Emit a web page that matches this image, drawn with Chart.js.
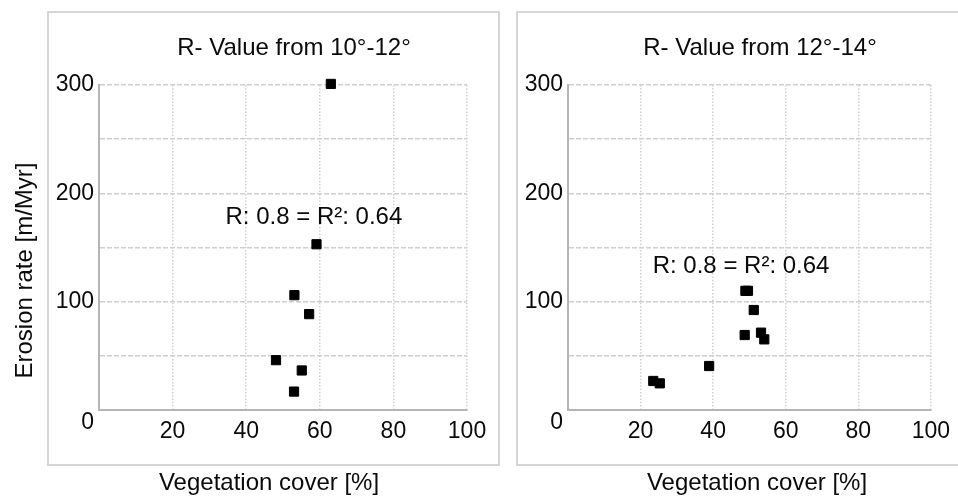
<!DOCTYPE html>
<html><head><meta charset="utf-8">
<script src="https://cdn.jsdelivr.net/npm/chart.js@4.4.1/dist/chart.umd.min.js"></script>
<style>
html,body{margin:0;padding:0;background:#fff;}
#wrap{position:relative;width:958px;height:497px;overflow:hidden;background:#fff;}
.panel{position:absolute;border:2px solid #d6d6d6;box-sizing:border-box;}
canvas{position:absolute;top:0;}
</style></head><body>
<div id="wrap">
<div class="panel" style="left:47px;top:11px;width:453px;height:455px;"></div>
<div class="panel" style="left:516px;top:11px;width:460px;height:455px;"></div>
<canvas id="c1" width="508" height="497" style="left:0"></canvas>
<canvas id="c2" width="450" height="497" style="left:508px"></canvas>
</div>
<script>
// ---- data ----
const panelTitles = ['R- Value from 10°-12°', 'R- Value from 12°-14°'];
const vegCover1012 = [63.0, 59.1, 53.1, 57.1, 48.1, 55.1, 53.0];
const erosion1012  = [301, 153, 106, 88.5, 46, 36.5, 17];
const vegCover1214 = [48.9, 49.6, 51.2, 48.7, 53.2, 54.1, 38.9, 23.5, 25.3];
const erosion1214  = [110, 110, 92.3, 69.2, 71.4, 65.2, 40.6, 26.8, 24.6];
const xTickValues = [20, 40, 60, 80, 100];
const yTickValues = [0, 100, 200, 300];
const rLabel = 'R: 0.8 = R\u00b2: 0.64';
const xAxisTitle = 'Vegetation cover [%]';
const yAxisTitle = 'Erosion rate [m/Myr]';

// ---- drawing ----
const FONT = '"Liberation Sans", Arial, Helvetica, sans-serif';
const TEXT = '#0a0a0a';
const GRID = '#cfcfcf';

const panelText = {
  id: 'panelText',
  afterDraw(chart, args, o) {
    const {ctx, chartArea: a, scales} = chart;
    ctx.save();
    ctx.fillStyle = TEXT;
    ctx.font = '24px ' + FONT;
    ctx.textAlign = 'center';
    ctx.textBaseline = 'middle';
    ctx.fillText(o.title, a.left + o.titleDx, a.top - 37);
    ctx.fillText(xAxisTitle, a.left + o.xTitleDx, a.bottom + 73);
    ctx.fillText(rLabel, scales.x.getPixelForValue(o.noteX), scales.y.getPixelForValue(o.noteY));
    if (o.showYTitle) {
      ctx.translate(o.yTitleX, (a.top + a.bottom) / 2 + 23);
      ctx.rotate(-Math.PI / 2);
      ctx.fillText(yAxisTitle, 0, 0);
    }
    ctx.restore();
  }
};

function gridColor(c) {
  return (c.tick && c.tick.value === 0) ? 'rgba(0,0,0,0)' : GRID;
}

function makeChart(id, xs, ys, yWidth, padRight, textOpts) {
  return new Chart(document.getElementById(id), {
    type: 'scatter',
    data: {
      datasets: [{
        data: xs.map((x, i) => ({x: x, y: ys[i]})),
        clip: false,
        pointStyle: 'rect',
        pointRadius: 6.5,
        pointHoverRadius: 6.5,
        backgroundColor: '#000',
        borderColor: '#000',
        borderWidth: 1
      }]
    },
    options: {
      responsive: false,
      animation: false,
      devicePixelRatio: 1,
      events: [],
      layout: {padding: {left: 0, top: 85, right: padRight, bottom: 0}},
      plugins: {legend: {display: false}, tooltip: {enabled: false}, panelText: textOpts},
      scales: {
        x: {
          type: 'linear', min: 0, max: 100,
          afterFit(s) { s.height = 87; },
          grid: {color: gridColor, lineWidth: 1.5, drawTicks: false},
          border: {display: true, color: '#b5b5b5', width: 2, dash: [1.5, 1.8]},
          ticks: {
            stepSize: 20, padding: 8, color: TEXT,
            font: {family: FONT, size: 23, lineHeight: 1.2},
            callback: v => xTickValues.includes(v) ? String(v) : ''
          }
        },
        y: {
          type: 'linear', min: 0, max: 300,
          afterFit(s) { s.width = yWidth; },
          grid: {color: gridColor, lineWidth: 1.5, drawTicks: false},
          border: {display: true, color: '#b5b5b5', width: 2, dash: [5, 2]},
          ticks: {
            stepSize: 50, padding: 5, color: TEXT,
            font: {family: FONT, size: 23, lineHeight: 1.08},
            callback: v => yTickValues.includes(v) ? (v === 0 ? ['', '0'] : String(v)) : ''
          }
        }
      }
    },
    plugins: [panelText]
  });
}

makeChart('c1', vegCover1012, erosion1012, 99, 41, {
  title: panelTitles[0], titleDx: 195, xTitleDx: 170, noteX: 58.4, noteY: 178,
  showYTitle: true, yTitleX: 25
});
makeChart('c2', vegCover1214, erosion1214, 60, 23, {
  title: panelTitles[1], titleDx: 192, xTitleDx: 189, noteX: 47.7, noteY: 133,
  showYTitle: false
});
</script>
</body></html>
